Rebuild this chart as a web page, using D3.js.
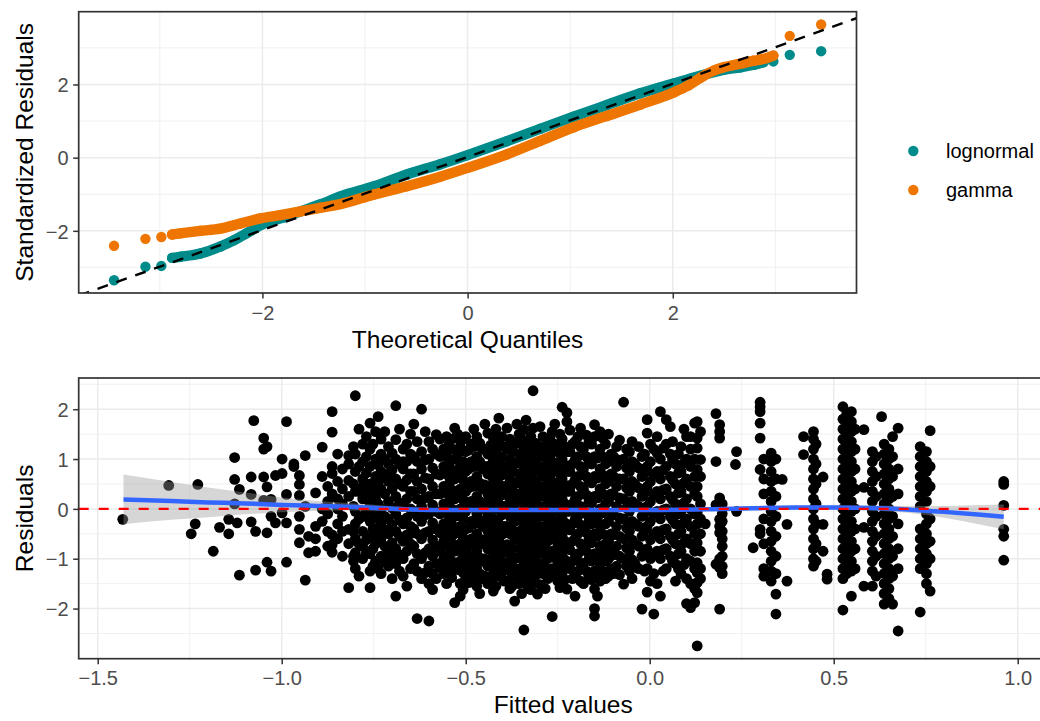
<!DOCTYPE html>
<html><head><meta charset="utf-8">
<script src="https://cdn.jsdelivr.net/npm/d3@7"></script>
<style>body{margin:0;background:#fff}</style>
</head><body>
<svg id="c" width="1040" height="721"></svg>
<script>
// ---------------- DATA ----------------
// Q-Q plot: [theoretical quantile, standardized residual]
const lognormalTail = [[-3.446,-3.35],[-3.14,-2.98],[-2.985,-2.96],[2.98,2.63],[3.14,2.81],[3.446,2.91]];
const lognormalBand = [[-2.88,-2.74],[-2.80,-2.71],[-2.605,-2.62],[-2.41,-2.43],[-2.28,-2.26],[-2.15,-2.06],[-2.0,-1.82],[-1.79,-1.63],[-1.63,-1.47],[-1.437,-1.28],[-1.24,-1.06],[-0.917,-0.79],[-0.592,-0.46],[-0.266,-0.18],[0,0.07],[0.384,0.45],[0.709,0.79],[1.033,1.12],[1.358,1.44],[1.683,1.76],[2.008,2.03],[2.268,2.24],[2.495,2.40],[2.66,2.47],[2.79,2.54],[2.885,2.61]];
const gammaTail = [[-3.446,-2.41],[-3.14,-2.22],[-2.985,-2.17],[3.14,3.33],[3.446,3.64]];
const gammaBand = [[-2.88,-2.10],[-2.80,-2.07],[-2.605,-2.00],[-2.41,-1.94],[-2.215,-1.80],[-2.02,-1.66],[-1.826,-1.57],[-1.63,-1.47],[-1.437,-1.37],[-1.24,-1.27],[-0.917,-1.01],[-0.592,-0.78],[-0.266,-0.52],[0,-0.28],[0.384,0.09],[0.709,0.46],[1.033,0.83],[1.358,1.14],[1.683,1.45],[2.008,1.78],[2.15,1.97],[2.268,2.18],[2.40,2.38],[2.495,2.47],[2.66,2.57],[2.79,2.65],[2.885,2.70],[2.98,2.79]];
const refLine = [1.0, 0.02]; // slope, intercept
const seriesNames = ["lognormal","gamma"];
const seriesColors = ["#008B8B","#EE7600"];

// Residuals vs fitted: [fitted value, [residuals...]]
const residColumns = [
 [-1.432,[-0.21]],[-1.307,[0.47]],[-1.246,[-0.50]],[-1.235,[-0.30]],[-1.228,[0.49]],
 [-1.186,[-0.85]],[-1.169,[-0.37]],[-1.144,[-0.21,-0.50]],[-1.128,[1.03,0.59,0.10]],
 [-1.121,[-0.28]],[-1.115,[0.39,-1.33]],[-1.083,[0.29,0.64,-0.26]],[-1.076,[1.77]],
 [-1.071,[-1.23,-0.45]],[-1.049,[1.42,1.2,0.64,0.17]],[-1.040,[1.25,0.44,-0.48,-1.07]],
 [-1.029,[-1.25,0.19,-0.15]],[-1.017,[0.67,-0.28]],[-0.999,[0.71,1.0,-0.08]],
 [-0.987,[1.75,-1.07,-0.28,0.29]],[-0.967,[0.90,0.85]],[-0.952,[0.67,0.49,0.27,-0.15,-0.41,-0.68]],
 [-0.936,[1.07,-1.43,0.05]],[-0.927,[-0.88,-0.55]],[-0.908,[-0.85,0.32,-0.35,-0.6]],
 [-0.89,[1.24,0.65,0.0,-0.25]],[-0.875,[0.45,-0.1,-0.45,-0.75,0.15]],
 [-0.863,[1.95,1.54,0.85,0.71,-0.87,-0.72,-0.52,0.3]],[-0.848,[0.55,0.2,-0.3,-0.6,1.1,0.0]],
 [-0.835,[0.8,0.4,-0.15,-0.95,0.1,-0.45]],[-0.818,[1.07,0.57,-0.41,-1.58,0.25,-0.7,0.9]],
 [-0.80,[2.27,1.1,0.75,0.35,-0.05,-0.3,-0.6,-0.88,-1.2]],
 [-0.78,[1.3,0.95,0.6,0.2,-0.15,-0.45,-0.75,-1.0,0.45]],
 [-0.76,[1.72,1.2,0.85,0.5,0.1,-0.25,-0.55,-0.9,-1.58,-1.25]],
 [-0.745,[1.55,1.0,0.65,0.3,-0.05,-0.4,-0.7,-1.05,0.2]],
 [-0.73,[1.4,1.1,0.75,0.4,0.0,-0.3,-0.6,-0.95,-1.3]],
 [-0.71,[1.25,0.9,0.55,0.15,-0.2,-0.5,-0.85,-1.15,0.7]],
 [-0.69,[2.07,1.39,1.0,0.6,0.25,-0.1,-0.45,-0.8,-1.1,-1.75]],
 [-0.67,[1.2,0.8,0.45,0.05,-0.3,-0.65,-1.0,-1.35,0.95]],
 [-0.65,[1.5,1.1,0.7,0.35,0.0,-0.35,-0.7,-1.2,-0.5]],
 [-0.632,[1.35,0.95,0.55,0.2,-0.15,-0.5,-0.9,-1.25,-2.2]],
 [-0.62,[2.0,1.15,0.8,0.4,0.05,-0.25,-0.6,-1.0,-1.4]],
 [-0.60,[1.35,1.0,0.6,0.25,-0.1,-0.45,-0.8,-1.15,-2.25,-1.5]],
 [-0.58,[1.49,1.1,0.7,0.3,-0.05,-0.4,-0.75,-1.1,-1.4]],
 [-0.56,[1.2,0.85,0.45,0.1,-0.3,-0.65,-1.0,-1.3]],
 [-0.545,[1.3,0.9,0.5,0.15,-0.2,-0.55,-0.9,-1.25,0.65]],
 [-0.53,[1.62,1.42,1.0,0.6,0.2,-0.15,-0.5,-0.85,-1.2,-1.88]],
 [-0.515,[1.25,0.85,0.4,0.0,-0.35,-0.7,-1.05,-1.5,-1.75]],
 [-0.50,[1.15,0.75,0.35,-0.05,-0.4,-0.8,-1.15,-1.4,1.45]],
 [-0.485,[1.3,0.95,0.55,0.15,-0.25,-0.6,-0.95,-1.3]],
 [-0.47,[1.45,1.05,0.65,0.25,-0.1,-0.5,-0.85,-1.2,-1.55]],
 [-0.455,[1.2,0.8,0.4,0.0,-0.35,-0.7,-1.05,-1.4]],
 [-0.44,[1.52,1.1,0.7,0.3,-0.1,-0.45,-0.8,-1.15,-1.5]],
 [-0.425,[1.42,1.0,0.6,0.2,-0.2,-0.55,-0.9,-1.3,-1.65]],
 [-0.41,[1.82,1.3,0.9,0.5,0.1,-0.3,-0.65,-1.0,-1.35]],
 [-0.395,[1.25,0.85,0.45,0.05,-0.35,-0.75,-1.1,-1.45]],
 [-0.38,[1.4,1.0,0.6,0.2,-0.15,-0.5,-0.9,-1.25,-1.6]],
 [-0.367,[1.3,0.9,0.5,0.1,-0.25,-0.6,-1.0,-1.35,-1.85]],
 [-0.355,[1.5,1.1,0.7,0.3,-0.1,-0.45,-0.8,-1.2,-1.5]],
 [-0.342,[1.59,1.2,0.8,0.4,0.0,-0.35,-0.7,-1.05,-1.4,-2.43]],
 [-0.33,[1.35,0.95,0.55,0.15,-0.25,-0.6,-0.95,-1.3,-1.6]],
 [-0.317,[2.37,1.62,1.25,0.85,0.45,0.05,-0.3,-0.7,-1.1,-1.45]],
 [-0.305,[1.15,0.75,0.35,-0.05,-0.45,-0.8,-1.2,-1.71]],
 [-0.29,[1.45,1.05,0.65,0.25,-0.15,-0.55,-0.9,-1.3]],
 [-0.277,[1.3,0.9,0.5,0.1,-0.3,-0.65,-1.0,-1.4]],
 [-0.265,[1.55,1.15,0.75,0.35,-0.05,-0.45,-0.85,-1.2,-2.16]],
 [-0.25,[1.25,0.85,0.45,0.05,-0.35,-0.7,-1.05,-1.45]],
 [-0.238,[2.04,1.4,1.0,0.6,0.2,-0.2,-0.55,-0.95,-1.3]],
 [-0.225,[1.93,1.75,1.15,0.75,0.35,-0.05,-0.4,-0.8,-1.15,-1.61]],
 [-0.21,[1.3,0.9,0.5,0.1,-0.3,-0.65,-1.05,-1.4]],
 [-0.195,[1.45,1.05,0.65,0.25,-0.15,-0.5,-0.9,-1.25]],
 [-0.18,[1.2,0.8,0.4,0.0,-0.4,-0.75,-1.1,-1.5]],
 [-0.165,[1.35,0.95,0.55,0.15,-0.25,-0.6,-1.0,-1.35]],
 [-0.15,[1.69,1.45,1.05,0.65,0.25,-0.15,-0.5,-0.9,-1.25,-1.61,-2.0,-2.15]],
 [-0.135,[1.55,1.2,0.8,0.4,0.0,-0.35,-0.75,-1.1,-1.45]],
 [-0.12,[1.3,0.9,0.5,0.1,-0.3,-0.7,-1.05,-1.4]],
 [-0.105,[1.1,0.7,0.3,-0.1,-0.5,-0.85,-1.2]],
 [-0.09,[1.25,0.85,0.45,0.05,-0.35,-0.75,-1.15]],
 [-0.071,[2.14,1.0,0.6,0.2,-0.2,-0.6,-1.0,-1.51]],
 [-0.055,[1.15,0.75,0.35,-0.05,-0.45,-0.85,-1.25]],
 [-0.04,[0.9,0.5,0.1,-0.3,-0.7,-1.1]],
 [-0.021,[1.05,0.65,0.25,-0.15,-0.55,-0.95,-2.01]],
 [-0.007,[1.79,1.52,0.85,0.45,0.05,-0.35,-0.8,-1.2,-1.67]],
 [0.011,[1.2,0.7,0.3,-0.1,-0.5,-0.9,-1.3,-2.11]],
 [0.029,[1.95,1.0,0.6,0.2,-0.2,-0.6,-1.0,-1.75]],
 [0.045,[1.79,1.3,0.85,0.4,0.0,-0.4,-0.8,-1.2]],
 [0.056,[1.65,1.1,0.65,0.25,-0.15,-0.55,-0.95]],
 [0.07,[0.9,0.5,0.1,-0.3,-0.7,-1.1,-1.45]],
 [0.085,[1.25,0.75,0.35,-0.05,-0.45,-0.85,-1.3]],
 [0.10,[1.45,1.0,0.6,0.2,-0.2,-0.6,-1.0,-1.4,-1.9]],
 [0.111,[1.45,1.2,0.85,0.45,0.0,-0.35,-0.7,-1.05,-1.5,-1.98]],
 [0.122,[1.72,1.0,0.65,0.3,-0.1,-0.5,-0.85,-1.2,-1.6,-1.88]],
 [0.129,[1.75,1.42,1.22,0.79,0.45,0.25,-0.08,-0.3,-0.68,-1.08,-1.28,-1.48,-1.68,-2.75]],
 [0.138,[1.55,0.99,0.65,0.1,-0.2,-0.5,-0.85,-1.2,-1.4]],
 [0.151,[-0.30]],
 [0.18,[1.91,0.95,0.08,-1.11]],
 [0.19,[1.69,1.55,1.42,0.22,-0.21,-0.35,-0.48,-1.0,-1.18,-2.01]],
 [0.197,[0.1,-0.1,-0.25,-0.45,-0.6,-0.75,-0.95,-1.15,-1.3]],
 [0.233,[0.89]],[0.236,[1.15,-0.05]],[0.281,[-0.78]],
 [0.30,[2.14,2.05,1.95,1.72,1.42,0.79,-0.41,-0.5]],
 [0.31,[1.0,0.6,0.3,-0.2,-0.7,-1.2,-1.35]],
 [0.33,[1.12,0.95,0.75,0.55,0.35,0.15,-0.05,-0.25,-0.45,-0.65,-0.85,-1.05,-1.25,-1.45]],
 [0.343,[1.0,0.6,0.25,-0.15,-0.55,-0.95,-1.3,-1.71,-2.11]],
 [0.36,[0.59]],[0.373,[-1.45,-0.31]],[0.418,[1.45,1.09]],
 [0.445,[1.55,1.4,1.2,1.0,0.8,0.6,0.4,0.2,0.0,-0.2,-0.4,-0.6,-0.8,-1.0,-1.15]],
 [0.452,[1.3,0.9,0.5,0.1,-0.3,-0.7,-1.05]],
 [0.471,[0.64,-0.31,-0.85]],[0.482,[-1.31,-1.41]],
 [0.525,[2.05,1.8,1.6,1.4,1.2,1.0,0.8,0.6,0.4,0.2,0.0,-0.2,-0.4,-0.6,-0.8,-1.0,-1.2,-1.4,-2.03]],
 [0.535,[1.9,1.7,1.5,1.3,1.1,0.9,0.7,0.5,0.3,0.1,-0.1,-0.3,-0.5,-0.7,-0.9,-1.1,-1.3]],
 [0.548,[1.95,1.75,1.55,1.35,1.15,0.95,0.75,0.55,0.35,0.15,-0.05,-0.25,-0.45,-0.65,-0.85,-1.05,-1.25,-1.75]],
 [0.558,[1.6,1.2,0.8,0.4,0.0,-0.4,-0.8,-1.2]],
 [0.582,[1.59,0.43,-0.37,-1.55]],
 [0.605,[1.15,0.95,0.75,0.55,0.35,0.15,-0.05,-0.25,-0.45,-0.65,-0.85,-1.05,-1.25,-1.55]],
 [0.615,[1.05,0.65,0.25,-0.15,-0.55,-0.95,-1.35]],
 [0.63,[1.85]],
 [0.637,[1.3,1.1,0.9,0.7,0.5,0.3,0.1,-0.1,-0.3,-0.5,-0.7,-0.9,-1.1,-1.3,-1.5,-1.7,-1.91]],
 [0.65,[1.2,1.0,0.8,0.6,0.4,0.2,0.0,-0.2,-0.4,-0.6,-0.8,-1.0,-1.2,-1.4,-1.6,-1.8]],
 [0.66,[1.45,1.05,0.65,0.25,-0.15,-0.55,-0.95,-1.35,-1.91]],
 [0.675,[1.62,0.8,0.3,-0.3,-0.8,-1.2,-2.45]],
 [0.735,[1.25,1.05,0.85,0.65,0.45,0.25,0.05,-0.4,-0.6,-0.8,-1.0,-1.2,-2.07]],
 [0.752,[1.15,0.95,0.75,0.55,0.35,0.15,-0.1,-0.3,-0.5,-0.7,-0.9,-1.1,-1.3,-1.5]],
 [0.762,[1.57,0.85,0.45,-0.2,-0.65,-1.0,-1.65]],
 [0.962,[0.55,0.49,0.07,-0.41,-0.55,-1.03]]
];
// the dense core between the columns above
const residColumnsCore = [
 [-0.805,[1.25,0.5,0.05,-0.45,-0.95,-1.05]],
 [-0.79,[0.85,0.35,-0.2,-0.7,1.6,-1.35]],
 [-0.77,[1.05,0.72,0.32,-0.05,-0.62,-0.88,1.45]],
 [-0.752,[1.3,0.45,0.25,-0.1,-0.4,-0.8,-1.15]],
 [-0.738,[0.88,0.55,0.1,-0.2,-0.55,-1.2,1.85]],
 [-0.72,[1.55,1.0,0.62,0.3,-0.15,-0.42,-0.75,-1.05]],
 [-0.70,[1.12,0.78,0.4,0.02,-0.32,-0.68,-0.98,-1.4]],
 [-0.68,[1.6,0.9,0.5,0.12,-0.22,-0.55,-0.92,-1.25]],
 [-0.66,[1.3,0.95,0.58,0.2,-0.18,-0.52,-0.85,-1.55]],
 [-0.641,[1.7,1.05,0.7,0.35,-0.05,-0.4,-0.75,-1.1]],
 [-0.61,[1.55,0.98,0.62,0.22,-0.12,-0.48,-0.88,-1.28]],
 [-0.59,[1.2,0.82,0.45,0.08,-0.28,-0.62,-0.95,-1.3,-1.62]],
 [-0.57,[1.05,0.68,0.3,-0.1,-0.48,-0.85,-1.18,1.4]],
 [-0.552,[1.45,1.05,0.72,0.32,-0.05,-0.4,-0.72,-1.08,-1.5]],
 [-0.538,[1.2,0.78,0.38,0.0,-0.32,-0.68,-1.05,-1.38]],
 [-0.522,[1.5,1.1,0.7,0.3,-0.08,-0.45,-0.82,-1.22]],
 [-0.507,[1.4,0.95,0.58,0.18,-0.2,-0.58,-0.95,-1.28,-1.62]],
 [-0.492,[1.18,0.8,0.42,0.02,-0.38,-0.75,-1.12,-1.48]],
 [-0.478,[1.6,1.25,0.85,0.45,0.08,-0.3,-0.68,-1.05,-1.42]],
 [-0.462,[1.32,0.95,0.52,0.15,-0.22,-0.6,-0.98,-1.3,-1.7]],
 [-0.448,[1.7,1.2,0.85,0.48,0.12,-0.25,-0.62,-1.0,-1.35]],
 [-0.432,[1.28,0.88,0.45,0.05,-0.35,-0.72,-1.08,-1.45]],
 [-0.418,[1.6,1.18,0.78,0.38,0.0,-0.4,-0.78,-1.15,-1.55]],
 [-0.402,[1.45,1.05,0.68,0.28,-0.12,-0.52,-0.9,-1.28]],
 [-0.388,[1.62,1.2,0.8,0.4,0.02,-0.35,-0.72,-1.08,-1.45]],
 [-0.374,[1.15,0.75,0.35,-0.05,-0.42,-0.78,-1.15,-1.55]],
 [-0.361,[1.7,1.32,0.92,0.52,0.15,-0.22,-0.6,-0.98,-1.35]],
 [-0.348,[1.4,1.0,0.6,0.2,-0.18,-0.55,-0.9,-1.25,-1.7]],
 [-0.336,[1.78,1.15,0.75,0.35,-0.05,-0.42,-0.8,-1.18,-1.5]],
 [-0.323,[1.45,1.05,0.68,0.28,-0.1,-0.48,-0.85,-1.25,-1.62]],
 [-0.311,[1.32,0.95,0.55,0.18,-0.2,-0.58,-0.95,-1.35]],
 [-0.298,[1.65,1.25,0.85,0.45,0.05,-0.35,-0.72,-1.1,-1.52]],
 [-0.284,[1.15,0.75,0.35,-0.02,-0.42,-0.8,-1.18,-1.6]],
 [-0.271,[1.42,1.02,0.62,0.22,-0.15,-0.52,-0.92,-1.3]],
 [-0.258,[1.7,1.3,0.92,0.52,0.15,-0.25,-0.6,-0.98,-1.35]],
 [-0.244,[1.5,1.1,0.7,0.3,-0.08,-0.45,-0.82,-1.2,-1.58]],
 [-0.231,[1.25,0.88,0.48,0.1,-0.28,-0.65,-1.02,-1.42]],
 [-0.217,[1.58,1.15,0.75,0.35,-0.05,-0.42,-0.82,-1.2]],
 [-0.203,[1.35,0.98,0.58,0.18,-0.22,-0.6,-0.98,-1.35,-1.75]],
 [-0.188,[1.62,1.25,0.85,0.45,0.05,-0.32,-0.7,-1.08,-1.45]],
 [-0.172,[1.48,1.05,0.65,0.28,-0.1,-0.48,-0.85,-1.25]],
 [-0.158,[1.3,0.9,0.52,0.12,-0.3,-0.68,-1.05,-1.42]],
 [-0.142,[1.02,0.62,0.22,-0.18,-0.55,-0.92,-1.3,-1.75]],
 [-0.128,[1.42,1.05,0.68,0.3,-0.08,-0.5,-0.88,-1.25]],
 [-0.112,[1.5,0.95,0.55,0.15,-0.25,-0.65,-1.0,-1.35]],
 [-0.098,[1.05,0.65,0.28,-0.12,-0.52,-0.92,-1.3]],
 [-0.082,[1.38,0.98,0.6,0.22,-0.18,-0.55,-0.95,-1.32]],
 [-0.063,[1.2,0.82,0.42,0.02,-0.38,-0.78,-1.15]],
 [-0.048,[1.35,0.95,0.55,0.15,-0.25,-0.62,-1.02,-1.4]],
 [-0.03,[1.25,0.82,0.42,0.05,-0.35,-0.75,-1.2]],
 [-0.014,[1.1,0.72,0.32,-0.08,-0.45,-0.85,-1.25]],
 [0.002,[1.3,0.95,0.55,0.15,-0.25,-0.62,-1.0,-1.45]],
 [0.02,[1.45,1.12,0.75,0.35,-0.05,-0.45,-0.85,-1.5]],
 [0.037,[1.22,0.78,0.38,-0.02,-0.42,-0.82,-1.25]],
 [0.062,[1.35,0.98,0.58,0.18,-0.22,-0.62,-1.05]],
 [0.078,[1.1,0.72,0.32,-0.1,-0.5,-0.9,-1.2]],
 [0.093,[1.6,0.92,0.52,0.12,-0.28,-0.68,-1.12]]
];
// loess smooth: fitted x, fit, standard-error half width
const smoothX  = [-1.43,-1.3,-1.2,-1.1,-1.0,-0.9,-0.8,-0.6,-0.4,-0.2,0.0,0.2,0.4,0.5,0.6,0.7,0.8,0.9,0.962];
const smoothY  = [0.19,0.16,0.13,0.11,0.08,0.06,0.04,-0.02,-0.02,-0.02,-0.02,0.0,0.03,0.03,0.02,-0.01,-0.06,-0.12,-0.16];
const smoothSE = [0.5,0.38,0.3,0.22,0.15,0.1,0.07,0.04,0.03,0.03,0.03,0.04,0.04,0.04,0.05,0.07,0.12,0.2,0.25];
const hlineY = 0;

const qqXTicks = [-2,0,2], qqXMinor = [-3,-1,1,3];
const qqYTicks = [-2,0,2], qqYMinor = [-3,-1,1,3];
const rvXTicks = [-1.5,-1.0,-0.5,0.0,0.5,1.0], rvXMinor = [-1.25,-0.75,-0.25,0.25,0.75];
const rvYTicks = [-2,-1,0,1,2], rvYMinor = [-2.5,-1.5,-0.5,0.5,1.5,2.5];

// ---------------- DRAW ----------------
const FONT = '"Liberation Sans", Arial, Helvetica, sans-serif';
const svg = d3.select('#c');
svg.append('rect').attr('width',1040).attr('height',721).attr('fill','#fff');

function expand(ext){const d=(ext[1]-ext[0])*0.05;return [ext[0]-d,ext[1]+d];}

function drawPanel(xs, ys, xT, xM, yT, yM, fmt, clipId){
  const [x0,x1]=xs.range(), [yb,yt]=ys.range();
  const g = svg.append('g');
  svg.append('clipPath').attr('id',clipId).append('rect').attr('x',x0).attr('y',yt).attr('width',x1-x0).attr('height',yb-yt);
  const grid = g.append('g');
  grid.selectAll('.xm').data(xM).join('line').attr('x1',xs).attr('x2',xs).attr('y1',yt).attr('y2',yb).attr('stroke','#EBEBEB').attr('stroke-width',0.75);
  grid.selectAll('.ym').data(yM).join('line').attr('y1',ys).attr('y2',ys).attr('x1',x0).attr('x2',x1).attr('stroke','#EBEBEB').attr('stroke-width',0.75);
  grid.selectAll('.xM').data(xT).join('line').attr('x1',xs).attr('x2',xs).attr('y1',yt).attr('y2',yb).attr('stroke','#EBEBEB').attr('stroke-width',1.5);
  grid.selectAll('.yM').data(yT).join('line').attr('y1',ys).attr('y2',ys).attr('x1',x0).attr('x2',x1).attr('stroke','#EBEBEB').attr('stroke-width',1.5);
  const style = a => {
    a.select('.domain').remove();
    a.attr('font-size',null).attr('font-family',null);
    a.selectAll('line').attr('stroke','#333333').attr('stroke-width',1.5);
    a.selectAll('text').attr('fill','#4D4D4D').style('font-size','20px').style('font-family',FONT);
  };
  svg.append('g').attr('transform',`translate(0,${yb})`)
    .call(d3.axisBottom(xs).tickValues(xT).tickSize(5.5).tickPadding(6.8).tickFormat(fmt)).call(style);
  svg.append('g').attr('transform',`translate(${x0},0)`)
    .call(d3.axisLeft(ys).tickValues(yT).tickSize(5.5).tickPadding(4.7).tickFormat(d3.format('d'))).call(style)
    .selectAll('text').attr('dy','0.36em');
  const plot = g.append('g').attr('clip-path',`url(#${clipId})`);
  return {g, plot, x0, x1, yb, yt};
}

// ---- top: Q-Q ----
const allQ = [lognormalTail,lognormalBand,gammaTail,gammaBand].flat();
const qx = d3.scaleLinear().domain(expand(d3.extent(allQ,d=>d[0]))).range([78.7,856.5]);
const qy = d3.scaleLinear().domain(expand(d3.extent(allQ,d=>d[1]))).range([293,11.7]);
const P1 = drawPanel(qx,qy,qqXTicks,qqXMinor,qqYTicks,qqYMinor,d3.format('d'),'clipTop');
const R = 5.2;
const bandLine = d3.line().x(d=>qx(d[0])).y(d=>qy(d[1])).curve(d3.curveMonotoneX);
[[lognormalBand,lognormalTail],[gammaBand,gammaTail]].forEach(([band,tail],i)=>{
  P1.plot.append('path').attr('d',bandLine(band)).attr('fill','none').attr('stroke',seriesColors[i])
    .attr('stroke-width',2*R).attr('stroke-linecap','round').attr('stroke-linejoin','round');
  P1.plot.selectAll(null).data(band.concat(tail)).join('circle')
    .attr('cx',d=>qx(d[0])).attr('cy',d=>qy(d[1])).attr('r',R).attr('fill',seriesColors[i]);
});
const qd = qx.domain();
P1.plot.append('line').attr('x1',qx(qd[0])).attr('x2',qx(qd[1]))
  .attr('y1',qy(refLine[0]*qd[0]+refLine[1])).attr('y2',qy(refLine[0]*qd[1]+refLine[1]))
  .attr('stroke','#000').attr('stroke-width',2.4).attr('stroke-dasharray','11,9');
P1.g.append('rect').attr('x',P1.x0).attr('y',P1.yt).attr('width',P1.x1-P1.x0).attr('height',P1.yb-P1.yt)
  .attr('fill','none').attr('stroke','#333333').attr('stroke-width',1.7);

svg.append('text').attr('x',(P1.x0+P1.x1)/2).attr('y',347.5).attr('text-anchor','middle')
  .style('font-family',FONT).style('font-size','24.5px').attr('fill','#000').text('Theoretical Quantiles');
svg.append('text').attr('transform',`translate(33,${(P1.yt+P1.yb)/2}) rotate(-90)`).attr('text-anchor','middle')
  .style('font-family',FONT).style('font-size','24.5px').attr('fill','#000').text('Standardized Residuals');

// legend
const leg = svg.append('g');
seriesNames.forEach((n,i)=>{
  leg.append('circle').attr('cx',913.3).attr('cy',151+39*i).attr('r',R).attr('fill',seriesColors[i]);
  leg.append('text').attr('x',946).attr('y',157.5+39*i).style('font-family',FONT).style('font-size','20px').attr('fill','#000').text(n);
});

// ---- bottom: residuals vs fitted ----
const pts = residColumns.concat(residColumnsCore).flatMap(([x,ys])=>ys.map(y=>[x,y]));
const xExt = d3.extent(pts,d=>d[0]);
const rx = d3.scaleLinear().domain(expand(xExt)).range([78.7,78.7+368*(xExt[1]-xExt[0])*1.1]);
const ry = d3.scaleLinear().domain(expand(d3.extent(pts,d=>d[1]))).range([658.7,378]);
const P2 = drawPanel(rx,ry,rvXTicks,rvXMinor,rvYTicks,rvYMinor,d3.format('.1f'),'clipBot');
P2.plot.selectAll(null).data(pts).join('circle').attr('cx',d=>rx(d[0])).attr('cy',d=>ry(d[1])).attr('r',5.4).attr('fill','#000');
const sm = smoothX.map((x,i)=>({x, y:smoothY[i], se:smoothSE[i]}));
P2.plot.append('path').attr('d',d3.area().x(d=>rx(d.x)).y0(d=>ry(d.y-d.se)).y1(d=>ry(d.y+d.se)).curve(d3.curveMonotoneX)(sm))
  .attr('fill','#999999').attr('fill-opacity',0.4);
P2.plot.append('path').attr('d',d3.line().x(d=>rx(d.x)).y(d=>ry(d.y)).curve(d3.curveMonotoneX)(sm))
  .attr('fill','none').attr('stroke','#3366FF').attr('stroke-width',4.5);
P2.plot.append('line').attr('x1',P2.x0).attr('x2',P2.x1).attr('y1',ry(hlineY)).attr('y2',ry(hlineY))
  .attr('stroke','#FF0000').attr('stroke-width',2.4).attr('stroke-dasharray','10,10');
P2.g.append('rect').attr('x',P2.x0).attr('y',P2.yt).attr('width',P2.x1-P2.x0).attr('height',P2.yb-P2.yt)
  .attr('fill','none').attr('stroke','#333333').attr('stroke-width',1.7);

svg.append('text').attr('x',(P2.x0+P2.x1)/2).attr('y',713.3).attr('text-anchor','middle')
  .style('font-family',FONT).style('font-size','24.5px').attr('fill','#000').text('Fitted values');
svg.append('text').attr('transform',`translate(33,${(P2.yt+P2.yb)/2}) rotate(-90)`).attr('text-anchor','middle')
  .style('font-family',FONT).style('font-size','24.5px').attr('fill','#000').text('Residuals');
</script></body></html>
